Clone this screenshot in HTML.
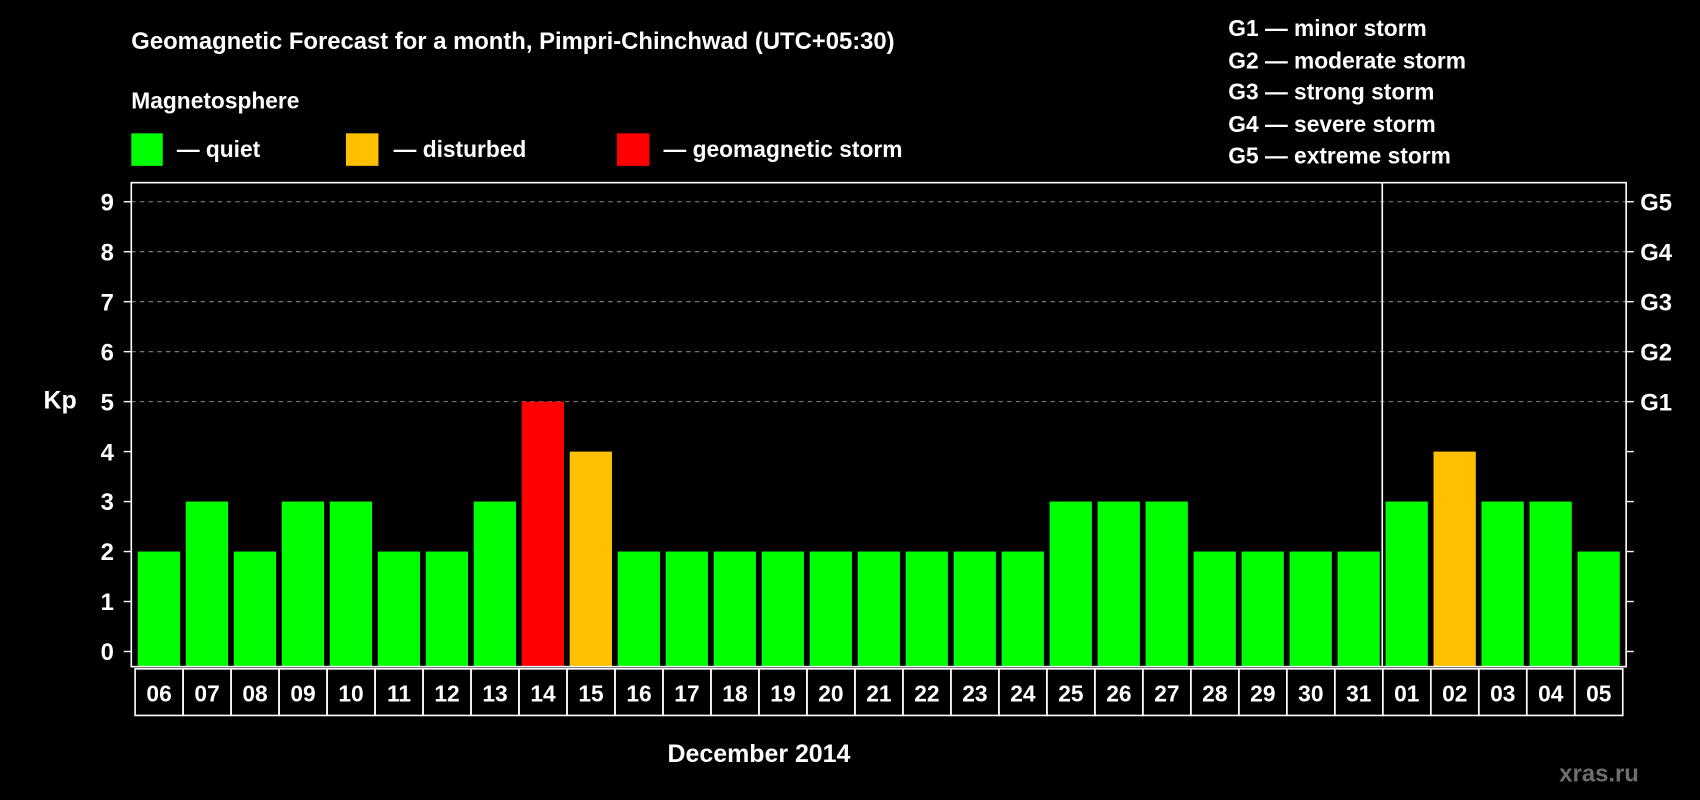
<!DOCTYPE html>
<html><head><meta charset="utf-8"><style>
html,body{margin:0;padding:0;background:#000;}
svg{display:block;font-family:"Liberation Sans",Arial,sans-serif;font-weight:bold;}
</style></head><body>
<svg width="1700" height="800" viewBox="0 0 1568 738" xmlns="http://www.w3.org/2000/svg">
<rect width="1568" height="738" fill="#000"/>
<text x="121" y="45" fill="#fff" font-size="22">Geomagnetic Forecast for a month, Pimpri-Chinchwad (UTC+05:30)</text>
<text x="121" y="100" fill="#fff" font-size="21">Magnetosphere</text>
<g><rect x="121" y="123" width="29" height="30" fill="#00ff00"/><text x="163" y="145" fill="#fff" font-size="21">— quiet</text></g>
<g><rect x="319" y="123" width="30" height="30" fill="#ffc000"/><text x="363" y="145" fill="#fff" font-size="21">— disturbed</text></g>
<g><rect x="569" y="123" width="30" height="30" fill="#ff0000"/><text x="612" y="145" fill="#fff" font-size="21">— geomagnetic storm</text></g>
<g fill="#fff" font-size="21">
<text x="1133" y="33">G1 — minor storm</text>
<text x="1133" y="63">G2 — moderate storm</text>
<text x="1133" y="92">G3 — strong storm</text>
<text x="1133" y="122">G4 — severe storm</text>
<text x="1133" y="151">G5 — extreme storm</text>
</g>
<text x="40" y="377" fill="#fff" font-size="23">Kp</text>
<text x="700" y="703" fill="#fff" font-size="23" text-anchor="middle">December 2014</text>
<text x="1475" y="721" fill="#6e6e6e" font-size="22" text-anchor="middle">xras.ru</text>
<g id="grid"></g><g id="bars"></g><g id="axes"></g><g id="labels"></g>
</svg>
<script>
const days=["06","07","08","09","10","11","12","13","14","15","16","17","18","19","20","21","22","23","24","25","26","27","28","29","30","31","01","02","03","04","05"];
const kpValues=[2,3,2,3,3,2,2,3,5,4,2,2,2,2,2,2,2,2,2,3,3,3,2,2,2,2,3,4,3,3,2];
const yTicks=[0,1,2,3,4,5,6,7,8,9];
const gLabels=["","","","","","G1","G2","G3","G4","G5"];
const NS="http://www.w3.org/2000/svg";
const L=121,R=1500,T=168.5,B=615,x0=127,pitch=44.27,bw=39;
const y=v=>601-v*46.1;
const x=i=>x0+i*pitch;
function mk(tag,attrs,parent){const e=document.createElementNS(NS,tag);for(const k in attrs)e.setAttribute(k,attrs[k]);parent.appendChild(e);return e;}
const grid=document.getElementById('grid'),bars=document.getElementById('bars'),axes=document.getElementById('axes'),labels=document.getElementById('labels');
yTicks.forEach((t,i)=>{
  if(t>=5){const g=mk('line',{x1:L,x2:R,y1:y(t),y2:y(t),stroke:'#888','stroke-dasharray':'4,4','stroke-width':1},grid);
  
  }
  mk('line',{x1:L-7,x2:L,y1:y(t),y2:y(t),stroke:'#fff','stroke-width':1.3},axes);
  mk('line',{x1:R,x2:R+7,y1:y(t),y2:y(t),stroke:'#fff','stroke-width':1.3},axes);
  const tl=mk('text',{x:105,y:y(t)+8,fill:'#fff','font-size':22,'text-anchor':'end'},axes);tl.textContent=t;
  
  
  if(gLabels[i]){const gl=mk('text',{x:1513,y:y(t)+8,fill:'#fff','font-size':22},axes);gl.textContent=gLabels[i];
  
  }
});
kpValues.forEach((v,i)=>{
  const c=v>=5?'#ff0000':(v>=4?'#ffc000':'#00ff00');
  const r=mk('rect',{x:x(i),y:y(v),width:bw,height:B-y(v),fill:c},bars);
  
  
  const bx=mk('rect',{x:x(i)-2.5,y:617,width:pitch,height:43,fill:'none',stroke:'#fff','stroke-width':1.5},labels);
  
  
  const t=mk('text',{x:x(i)-2.5+pitch/2,y:647,fill:'#fff','font-size':21,'text-anchor':'middle'},labels);t.textContent=days[i];
  
  
});
const fr=mk('rect',{x:L,y:T,width:R-L,height:B-T,fill:'none',stroke:'#fff','stroke-width':1.5},axes);


const sepIdx=days.indexOf("01");
const sp=mk('line',{x1:x(sepIdx)-3,x2:x(sepIdx)-3,y1:T,y2:B,stroke:'#fff','stroke-width':1.5},axes);


</script>
</body></html>
